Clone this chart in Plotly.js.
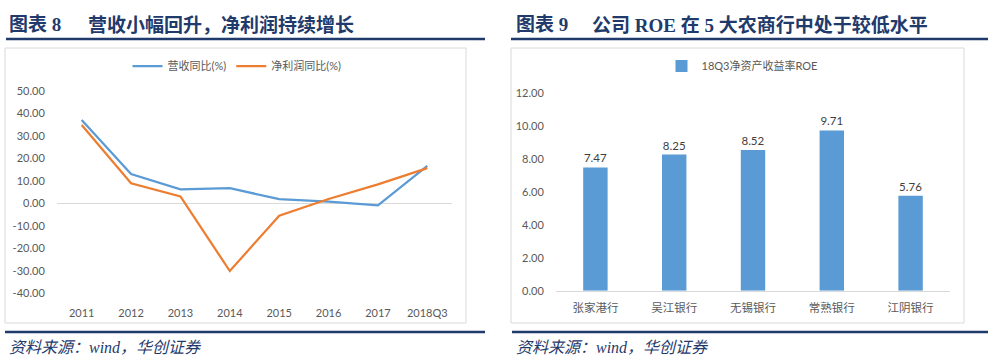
<!DOCTYPE html>
<html>
<head>
<meta charset="utf-8">
<script src="https://cdn.plot.ly/plotly-3.0.1.min.js"></script>
<style>
  html, body { margin: 0; padding: 0; background: #ffffff; }
  #chart { width: 988px; height: 357px; }
</style>
</head>
<body>
<div id="chart"></div>
<script>
// ---------- data ----------
const years = ['2011', '2012', '2013', '2014', '2015', '2016', '2017', '2018Q3'];
const revenueYoY = [37.0, 13.0, 6.2, 6.7, 1.8, 0.7, -0.9, 16.6];
const profitYoY = [34.8, 8.9, 3.0, -30.1, -5.5, 1.9, 8.4, 15.6];
const revenueName = '营收同比(%)';
const profitName = '净利润同比(%)';
const leftTickVals = [50, 40, 30, 20, 10, 0, -10, -20, -30, -40];
const leftTickText = ['50.00', '40.00', '30.00', '20.00', '10.00', '0.00', '-10.00', '-20.00', '-30.00', '-40.00'];

const banks = ['张家港行', '吴江银行', '无锡银行', '常熟银行', '江阴银行'];
const roe = [7.47, 8.25, 8.52, 9.71, 5.76];
const roeName = '18Q3净资产收益率ROE';
const rightTickVals = [0, 2, 4, 6, 8, 10, 12];
const rightTickText = ['0.00', '2.00', '4.00', '6.00', '8.00', '10.00', '12.00'];

const leftTitleNo = '图表 8';
const leftTitle = '营收小幅回升，净利润持续增长';
const rightTitleNo = '图表 9';
const rightTitle = '公司 ROE 在 5 大农商行中处于较低水平';
const sourceText = '资料来源：wind，华创证券';

// ---------- layout helpers (pixel -> paper) ----------
const W = 988, H = 357;
const px = x => x / W;
const py = y => 1 - y / H;

const navy = '#1F3A6B';
const boxGray = '#D9D9D9';
const tickGray = '#595959';
const blue = '#5B9BD5';
const orange = '#ED7D31';
const baseFont = "Lato, 'Noto Sans CJK SC', sans-serif";
const titleFont = "'Liberation Serif', 'Noto Sans CJK SC', serif";

const traces = [
  {
    type: 'scatter', mode: 'lines', name: revenueName,
    x: years, y: revenueYoY, xaxis: 'x', yaxis: 'y',
    line: { color: blue, width: 2.25 }, legend: 'legend'
  },
  {
    type: 'scatter', mode: 'lines', name: profitName,
    x: years, y: profitYoY, xaxis: 'x', yaxis: 'y',
    line: { color: orange, width: 2.25 }, legend: 'legend'
  },
  {
    type: 'bar', name: roeName,
    x: banks, y: roe, xaxis: 'x2', yaxis: 'y2',
    marker: { color: blue },
    text: roe.map(v => v.toFixed(2)), textposition: 'outside',
    textfont: { size: 11.5, color: '#404040', family: baseFont },
    cliponaxis: false,
    legend: 'legend2', showlegend: true
  }
];

function hline(x0, x1, y, color, width) {
  return { type: 'line', xref: 'paper', yref: 'paper', x0: px(x0), x1: px(x1), y0: py(y), y1: py(y),
           line: { color: color, width: width } };
}
function rect(x0, y0, x1, y1) {
  return { type: 'rect', xref: 'paper', yref: 'paper', x0: px(x0), x1: px(x1), y0: py(y1), y1: py(y0),
           line: { color: boxGray, width: 1 }, fillcolor: 'rgba(0,0,0,0)', layer: 'below' };
}
function label(text, x, y, font) {
  return { text: text, xref: 'paper', yref: 'paper', x: px(x), y: py(y), xanchor: 'left', yanchor: 'middle',
           showarrow: false, font: font };
}

const titleFontObj = { family: titleFont, size: 19, color: navy, weight: 700 };
const sourceFontObj = { family: titleFont, size: 16, color: navy, style: 'italic' };

const layout = {
  width: W, height: H,
  margin: { l: 0, r: 0, t: 0, b: 0, pad: 0 },
  paper_bgcolor: '#ffffff', plot_bgcolor: 'rgba(0,0,0,0)',
  font: { family: baseFont, size: 11, color: tickGray },
  showlegend: true,
  xaxis: {
    domain: [px(57), px(452)], anchor: 'y', type: 'category',
    range: [-0.5, 7.5], showgrid: false, zeroline: false, showline: false,
    ticks: 'outside', ticklen: 9, tickcolor: 'rgba(0,0,0,0)',
    tickfont: { size: 11, color: tickGray }, fixedrange: true
  },
  yaxis: {
    domain: [py(293.3), py(90.7)], anchor: 'x', range: [-40, 50],
    tickvals: leftTickVals, ticktext: leftTickText,
    showgrid: false, showline: false,
    zeroline: true, zerolinecolor: boxGray, zerolinewidth: 1,
    ticks: 'outside', ticklen: 9, tickcolor: 'rgba(0,0,0,0)',
    tickfont: { size: 11, color: tickGray }, fixedrange: true
  },
  xaxis2: {
    domain: [px(556), px(950)], anchor: 'y2', type: 'category',
    range: [-0.5, 4.5], showgrid: false, zeroline: false,
    showline: true, linecolor: boxGray, linewidth: 1,
    ticks: 'outside', ticklen: 6, tickcolor: 'rgba(0,0,0,0)',
    tickfont: { size: 11.5, color: tickGray }, fixedrange: true
  },
  yaxis2: {
    domain: [py(290.7), py(92.7)], anchor: 'x2', range: [0, 12],
    tickvals: rightTickVals, ticktext: rightTickText,
    showgrid: false, showline: false, zeroline: false,
    ticks: 'outside', ticklen: 9, tickcolor: 'rgba(0,0,0,0)',
    tickfont: { size: 11, color: tickGray }, fixedrange: true
  },
  bargap: 0.69,
  legend: {
    orientation: 'h', x: px(237), xanchor: 'center', y: py(66), yanchor: 'middle',
    bgcolor: 'rgba(0,0,0,0)', font: { size: 11, color: tickGray }, itemwidth: 30
  },
  legend2: {
    orientation: 'h', x: px(742), xanchor: 'center', y: py(66), yanchor: 'middle',
    bgcolor: 'rgba(0,0,0,0)', font: { size: 11, color: tickGray }, itemwidth: 30
  },
  shapes: [
    hline(6, 485, 39, navy, 2.5),
    hline(511, 988, 39, navy, 2.5),
    hline(5, 485, 332, navy, 2.5),
    hline(512, 988, 332, navy, 2.5),
    rect(5, 48, 466, 323),
    rect(511, 48, 964, 323)
  ],
  annotations: [
    label(leftTitleNo, 7, 25, titleFontObj),
    label(leftTitle, 86, 25, titleFontObj),
    label(rightTitleNo, 514, 25, titleFontObj),
    label(rightTitle, 590, 25, titleFontObj),
    label(sourceText, 7, 347, sourceFontObj),
    label(sourceText, 514, 347, sourceFontObj)
  ]
};

Plotly.newPlot('chart', traces, layout, { staticPlot: true, displayModeBar: false });
</script>
</body>
</html>
